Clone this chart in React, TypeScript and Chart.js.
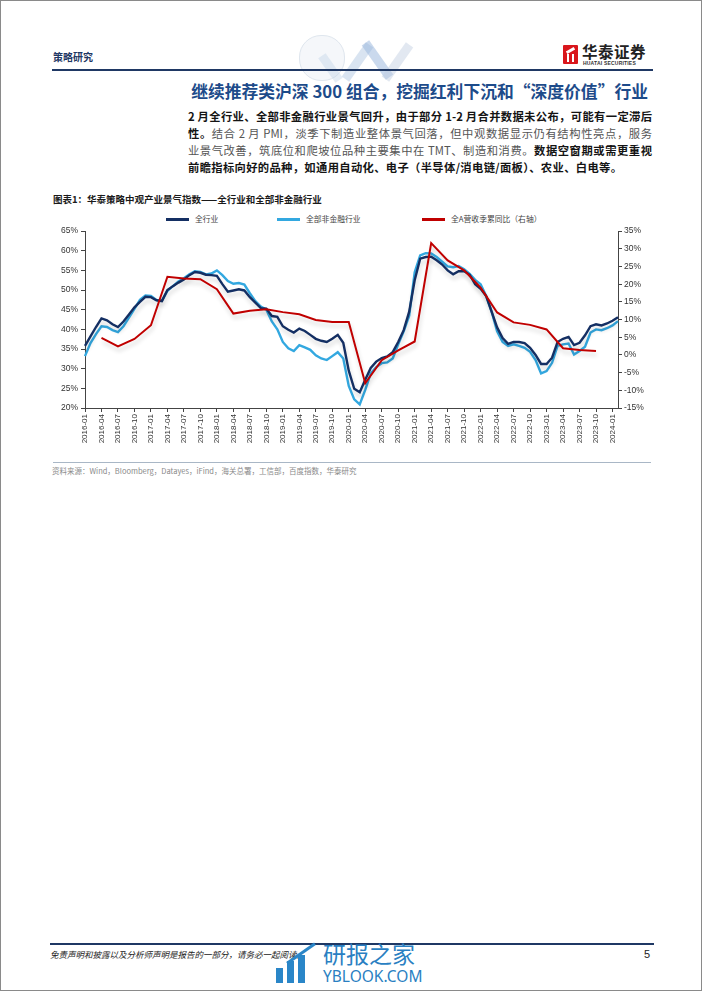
import React, { useEffect, useRef } from "react";
import { Chart, registerables } from "chart.js";

Chart.register(...registerables);

// ---------- data ----------
const months = [
  "2016-01","2016-02","2016-03","2016-04","2016-05","2016-06","2016-07","2016-08","2016-09","2016-10","2016-11","2016-12",
  "2017-01","2017-02","2017-03","2017-04","2017-05","2017-06","2017-07","2017-08","2017-09","2017-10","2017-11","2017-12",
  "2018-01","2018-02","2018-03","2018-04","2018-05","2018-06","2018-07","2018-08","2018-09","2018-10","2018-11","2018-12",
  "2019-01","2019-02","2019-03","2019-04","2019-05","2019-06","2019-07","2019-08","2019-09","2019-10","2019-11","2019-12",
  "2020-01","2020-02","2020-03","2020-04","2020-05","2020-06","2020-07","2020-08","2020-09","2020-10","2020-11","2020-12",
  "2021-01","2021-02","2021-03","2021-04","2021-05","2021-06","2021-07","2021-08","2021-09","2021-10","2021-11","2021-12",
  "2022-01","2022-02","2022-03","2022-04","2022-05","2022-06","2022-07","2022-08","2022-09","2022-10","2022-11","2022-12",
  "2023-01","2023-02","2023-03","2023-04","2023-05","2023-06","2023-07","2023-08","2023-09","2023-10","2023-11","2023-12",
  "2024-01","2024-02",
];

// 全行业 (%)
const allIndustry = [
  35.8, 38.2, 40.6, 42.8, 42.3, 41.3, 40.6, 42.0, 43.8, 45.6, 47.0, 48.3,
  48.2, 47.4, 47.2, 50.0, 51.0, 51.9, 52.7, 53.8, 54.6, 54.4, 53.9, 53.8,
  53.6, 51.5, 49.6, 49.9, 50.2, 49.9, 48.2, 46.8, 45.4, 45.3, 43.4, 43.2,
  40.8, 39.9, 39.2, 40.2, 39.6, 38.6, 37.6, 37.1, 36.8, 37.6, 38.6, 36.6,
  29.5, 24.9, 24.0, 27.2, 30.2, 31.8, 32.7, 33.1, 34.2, 36.8, 39.8, 44.5,
  52.5, 58.0, 58.4, 58.5, 57.6, 56.5, 55.0, 54.0, 54.8, 54.8, 53.9, 51.5,
  50.3, 48.5, 44.5, 40.5, 37.8, 36.3, 36.8, 36.8, 36.5, 35.3, 33.5, 31.2,
  31.2, 32.8, 36.8, 37.6, 38.1, 36.0, 36.6, 38.5, 40.8, 41.3, 41.0, 41.5,
  42.2, 43.1,
];

// 全部非金融行业 (%)
const nonFinancial = [
  33.2, 36.5, 38.8, 40.8, 40.6, 39.8, 39.3, 40.8, 43.0, 45.2, 47.5, 48.6,
  48.5, 47.5, 47.3, 49.8, 51.0, 52.2, 53.0, 54.0, 54.8, 54.6, 54.0, 54.2,
  55.0, 53.8, 52.3, 51.6, 51.8, 51.4, 49.2, 47.2, 45.8, 45.0, 42.0, 40.0,
  36.8, 35.2, 34.5, 36.0, 35.4, 34.8, 33.4, 32.6, 32.2, 33.2, 34.2, 32.6,
  25.6, 22.2, 20.9, 24.6, 28.8, 30.4, 31.4, 31.6, 32.6, 36.2, 39.5, 43.5,
  54.5, 58.8, 59.4, 59.3, 58.4, 57.2, 56.0, 55.8, 56.1, 55.3, 54.1, 52.6,
  51.5, 48.5, 44.5, 39.5, 36.8, 35.8, 36.2, 35.8, 35.3, 34.3, 32.2, 28.8,
  29.4, 31.5, 35.8, 36.2, 36.4, 33.6, 34.5, 35.6, 39.2, 40.0, 39.8, 40.3,
  41.0, 42.1,
];

// 全A营收季累同比（右轴） (%)
const revenueDates = [
  "2016-04","2016-07","2016-10","2017-01","2017-04","2017-07","2017-10","2018-01",
  "2018-04","2018-07","2018-10","2019-01","2019-04","2019-07","2019-10","2020-01",
  "2020-04","2020-07","2020-10","2021-01","2021-04","2021-07","2021-10","2022-01",
  "2022-04","2022-07","2022-10","2023-01","2023-04","2023-07","2023-10",
];
const revenueYoY = [
  4.8, 2.4, 4.5, 8.4, 22.1, 21.6, 21.4, 18.6,
  11.7, 12.5, 12.9, 12.1, 11.5, 9.9, 9.3, 9.3,
  -8.0, -1.5, 1.3, 3.8, 31.6, 26.7, 23.9, 19.0,
  12.0, 9.2, 8.5, 7.2, 1.9, 1.4, 1.1,
];

const leftTicks = { min: 20, max: 65, step: 5 };
const rightTicks = { min: -15, max: 35, step: 5 };

const seriesNames = ["全行业", "全部非金融行业", "全A营收季累同比（右轴）"];
const seriesColors = ["#142f63", "#33a8e0", "#c00000"];

const CJK = "'Noto Sans CJK SC', 'Noto Sans', sans-serif";
const LATIN = "'Liberation Sans', Arial, sans-serif";

const shadowPlugin = {
  id: "lineShadow",
  beforeDatasetDraw(chart: any, args: any) {
    const ctx = chart.ctx;
    ctx.save();
    if (args.index < 2) {
      ctx.shadowColor = "rgba(0,0,0,0.16)";
      ctx.shadowBlur = 4;
      ctx.shadowOffsetX = 1;
      ctx.shadowOffsetY = 4;
    }
  },
  afterDatasetDraw(chart: any) {
    chart.ctx.restore();
  },
};

function ChartBox() {
  const ref = useRef<HTMLCanvasElement | null>(null);
  useEffect(() => {
    if (!ref.current) return;
    const tickColor = (c: any) => (c.index % 3 === 0 ? "#444" : "rgba(0,0,0,0)");
    const chart = new Chart(ref.current, {
      type: "line",
      data: {
        labels: months,
        datasets: [
          {
            label: seriesNames[2],
            data: revenueDates.map((d, i) => ({ x: d, y: revenueYoY[i] })),
            yAxisID: "y1",
            borderColor: seriesColors[2],
            backgroundColor: seriesColors[2],
            borderWidth: 2,
            pointRadius: 0,
            tension: 0,
          },
          {
            label: seriesNames[0],
            data: allIndustry,
            yAxisID: "y",
            borderColor: seriesColors[0],
            backgroundColor: seriesColors[0],
            borderWidth: 2.4,
            pointRadius: 0,
            tension: 0,
          },
          {
            label: seriesNames[1],
            data: nonFinancial,
            yAxisID: "y",
            borderColor: seriesColors[1],
            backgroundColor: seriesColors[1],
            borderWidth: 2.4,
            pointRadius: 0,
            tension: 0,
          },
        ],
      },
      options: {
        responsive: false,
        animation: false,
        maintainAspectRatio: false,
        layout: { padding: { top: 0, left: 0, right: 0, bottom: 0 } },
        plugins: {
          legend: { display: false },
          tooltip: { enabled: false },
        },
        scales: {
          x: {
            type: "category",
            offset: false,
            afterFit: (s: any) => { s.height = 51; },
            grid: {
              display: true,
              drawOnChartArea: false,
              drawTicks: true,
              tickLength: 4,
              tickColor: tickColor,
            },
            border: { display: true, color: "#444", width: 1 },
            ticks: {
              autoSkip: false,
              maxRotation: 90,
              minRotation: 90,
              padding: 2,
              color: "#333",
              font: { family: LATIN, size: 8 },
              callback: function (this: any, v: any, i: number) {
                return i % 3 === 0 ? months[i] : "";
              },
            },
          },
          y: {
            type: "linear",
            position: "left",
            min: leftTicks.min,
            max: leftTicks.max,
            afterFit: (s: any) => { s.width = 44; },
            grid: { display: true, drawOnChartArea: false, drawTicks: true, tickLength: 4, tickColor: "#444" },
            border: { display: true, color: "#444", width: 1 },
            ticks: {
              stepSize: leftTicks.step,
              padding: 3,
              color: "#333",
              font: { family: LATIN, size: 8.5 },
              callback: (v: any) => v + "%",
            },
          },
          y1: {
            type: "linear",
            position: "right",
            min: rightTicks.min,
            max: rightTicks.max,
            afterFit: (s: any) => { s.width = 45; },
            grid: { display: true, drawOnChartArea: false, drawTicks: true, tickLength: 4, tickColor: "#444" },
            border: { display: true, color: "#444", width: 1 },
            ticks: {
              stepSize: rightTicks.step,
              padding: 2,
              color: "#333",
              font: { family: LATIN, size: 8.5 },
              callback: (v: any) => v + "%",
            },
          },
        },
      },
      plugins: [shadowPlugin],
    } as any);
    return () => chart.destroy();
  }, []);
  return (
    <canvas
      ref={ref}
      width={622}
      height={236}
      style={{ position: "absolute", left: 40, top: 222, width: 622, height: 236 }}
    />
  );
}

const legendPos = [165, 276, 421];

export default function App() {
  const abs = (s: any) => ({ position: "absolute" as const, ...s });
  return (
    <div
      style={{
        position: "absolute",
        left: 0,
        top: 0,
        width: 702,
        height: 991,
        background: "#fff",
        border: "1px solid #8a8a8a",
        boxSizing: "border-box",
        overflow: "hidden",
        fontFamily: CJK,
      }}
    >
      {/* header decoration */}
      <div style={abs({ left: 298, top: 34, width: 44, height: 44, borderRadius: 22, border: "1px solid #dfe6ee", background: "rgba(225,232,240,0.35)" })} />
      <div style={abs({ left: 352, top: 40, width: 9, height: 42, background: "rgba(170,195,225,0.45)", transform: "rotate(35deg)" })} />
      <div style={abs({ left: 372, top: 38, width: 9, height: 42, background: "rgba(150,180,220,0.5)", transform: "rotate(-35deg)" })} />
      <div style={abs({ left: 392, top: 40, width: 9, height: 42, background: "rgba(190,205,225,0.45)", transform: "rotate(35deg)" })} />
      <div style={abs({ left: 325, top: 52, width: 9, height: 30, background: "rgba(190,210,230,0.4)", transform: "rotate(-35deg)" })} />

      <div style={abs({ left: 52, top: 49, fontSize: 10, fontWeight: 700, color: "#1f3864", lineHeight: "14px" })}>策略研究</div>

      {/* logo */}
      <div style={abs({ left: 562, top: 44, width: 15, height: 19, background: "#d9161c", borderRadius: 1 })}>
        <div style={abs({ left: 3, top: 4, width: 9, height: 3, background: "#fff", transform: "rotate(-30deg)" })} />
        <div style={abs({ left: 4, top: 9, width: 2, height: 8, background: "#fff" })} />
        <div style={abs({ left: 9, top: 9, width: 2, height: 8, background: "#fff" })} />
      </div>
      <div style={abs({ left: 581, top: 40, fontSize: 15.5, fontWeight: 700, color: "#222", lineHeight: "20px", letterSpacing: 0.5 })}>华泰证券</div>
      <div style={abs({ left: 582, top: 59, fontSize: 5, fontWeight: 700, color: "#333", lineHeight: "6px", fontFamily: LATIN, letterSpacing: 0.2 })}>HUATAI SECURITIES</div>

      <div style={abs({ left: 51, top: 68, width: 601, height: 2, background: "#1f3864" })} />

      {/* title */}
      <div style={abs({ right: 53, top: 79, fontSize: 16.8, fontWeight: 700, color: "#1d4b8a", lineHeight: "22px", whiteSpace: "nowrap" })}>
        继续推荐类沪深 300 组合，挖掘红利下沉和“深度价值”行业
      </div>

      {/* paragraph */}
      {[
        [["b", "2 月全行业、全部非金融行业景气回升，由于部分 1-2 月合并数据未公布，可能有一定滞后"]],
        [["b", "性。"], ["r", "结合 2 月 PMI，淡季下制造业整体景气回落，但中观数据显示仍有结构性亮点，服务"]],
        [["r", "业景气改善，筑底位和爬坡位品种主要集中在 TMT、制造和消费。"], ["b", "数据空窗期或需更重视"]],
        [["b", "前瞻指标向好的品种，如通用自动化、电子（半导体/消电链/面板）、农业、白电等。"]],
      ].map((line, li) => (
        <div
          key={li}
          style={abs({
            left: 187,
            top: 107 + li * 17,
            width: li === 3 ? 434 : 464,
            fontSize: 11.3,
            lineHeight: "17px",
            textAlign: "justify",
            textAlignLast: "justify",
          })}
        >
          {line.map((seg: any, si: number) => (
            <span key={si} style={{ fontWeight: seg[0] === "b" ? 700 : 400, color: seg[0] === "b" ? "#141414" : "#555" }}>
              {seg[1]}
            </span>
          ))}
        </div>
      ))}

      {/* caption */}
      <div style={abs({ left: 52, top: 191, fontSize: 9.5, fontWeight: 700, color: "#1a1a1a", lineHeight: "14px", whiteSpace: "nowrap" })}>
        图表1：华泰策略中观产业景气指数——全行业和全部非金融行业
      </div>

      {/* legend */}
      {seriesNames.map((n, i) => (
        <React.Fragment key={n}>
          <div style={abs({ left: legendPos[i], top: 216.5, width: 23, height: 3, background: seriesColors[i] })} />
          <div style={abs({ left: legendPos[i] + 29, top: 212, fontSize: 7.8, color: "#444", lineHeight: "12px", whiteSpace: "nowrap" })}>{n}</div>
        </React.Fragment>
      ))}

      <ChartBox />

      {/* source */}
      <div style={abs({ left: 52, top: 461, width: 598, height: 1, background: "#a9b7c6" })} />
      <div style={abs({ left: 51, top: 464, fontSize: 7.5, color: "#8a8a8a", lineHeight: "11px", whiteSpace: "nowrap" })}>
        资料来源：Wind，Bloomberg，Datayes，iFind，海关总署，工信部，百度指数，华泰研究
      </div>

      {/* footer */}
      <div style={abs({ left: 49, top: 942, width: 604, height: 1.5, background: "#1f3864" })} />
      <div style={abs({ left: 49, top: 947, fontSize: 8.5, fontStyle: "italic", color: "#222", lineHeight: "12px", whiteSpace: "nowrap" })}>
        免责声明和披露以及分析师声明是报告的一部分，请务必一起阅读。
      </div>
      <div style={abs({ left: 643, top: 946, fontSize: 11, color: "#222", lineHeight: "14px", fontFamily: LATIN })}>5</div>

      {/* watermark */}
      <div style={abs({ left: 275, top: 967, width: 7, height: 15, background: "#2a86c8" })} />
      <div style={abs({ left: 286, top: 960, width: 7, height: 22, background: "#2a86c8" })} />
      <div style={abs({ left: 297, top: 954, width: 7, height: 28, background: "#2a86c8" })} />
      <div style={abs({ left: 283, top: 951, width: 34, height: 3, background: "#2a86c8", transform: "rotate(-35deg)" })} />
      <div style={abs({ left: 322, top: 938, fontSize: 23, color: "#2a7fc2", lineHeight: "28px", whiteSpace: "nowrap" })}>研报之家</div>
      <div style={abs({ left: 322, top: 966, fontSize: 15.5, color: "#2a7fc2", lineHeight: "18px", whiteSpace: "nowrap", fontFamily: "'Noto Sans', sans-serif" })}>YBLOOK.COM</div>
    </div>
  );
}
